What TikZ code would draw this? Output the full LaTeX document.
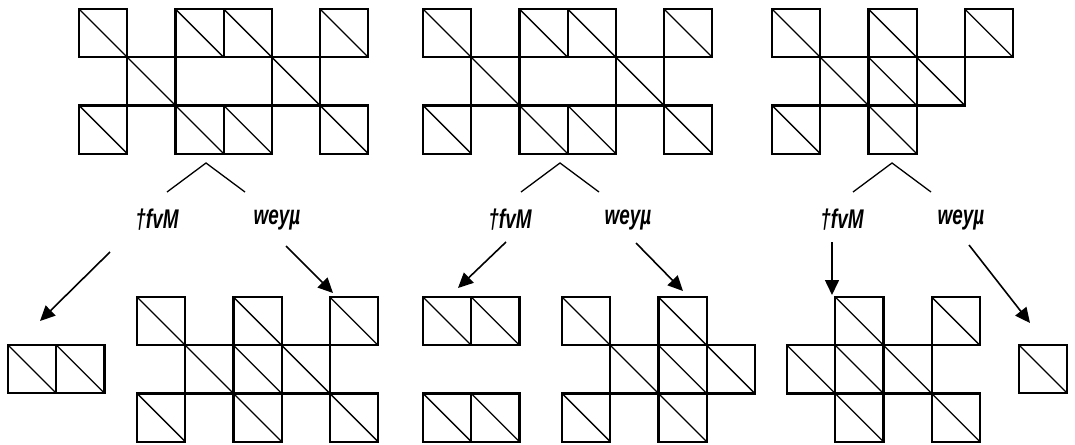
\documentclass[tikz,border=0pt]{standalone}
\usepackage{fontspec}
\newfontfamily\opfont[FakeStretch=0.7]{Liberation Sans}
\usetikzlibrary{arrows.meta}

% one square of the grid, split by its diagonal
\tikzset{
  cell/.style={draw, line width=2.2pt, minimum size=48.2pt, inner sep=0pt,
    path picture={\draw[line width=1.3pt] (path picture bounding box.north west)
      -- (path picture bounding box.south east);}},
  op/.style={inner sep=0pt, font=\opfont\bfseries\itshape\fontsize{27}{27}\selectfont},
  branch/.style={line width=1.3pt},
  move/.style={line width=1.6pt, -{Triangle[length=15pt,width=14pt]}}
}

% #1 name, #2 #3 top left corner, #4 list of column/row
\newcommand{\drawgrid}[4]{%
  \foreach \c/\r in {#4}
    \node[cell] (#1-\c-\r) at ({#2+(\c+0.5)*48.2},{#3+(\r+0.5)*48.2}) {};}

\begin{document}
\begin{tikzpicture}[x=1pt, y=-1pt]
  \useasboundingbox (0,0) rectangle (1075,444);

  % shapes before the move
  \drawgrid{a}{79}{9}{0/0,2/0,3/0,5/0,1/1,4/1,0/2,2/2,3/2,5/2}
  \drawgrid{b}{423}{9}{0/0,2/0,3/0,5/0,1/1,4/1,0/2,2/2,3/2,5/2}
  \drawgrid{c}{772}{9}{0/0,2/0,4/0,1/1,2/1,3/1,0/2,2/2}

  % shapes after the move
  \drawgrid{al}{8}{345}{0/0,1/0}
  \drawgrid{ar}{137}{297}{0/0,2/0,4/0,1/1,2/1,3/1,0/2,2/2,4/2}
  \drawgrid{bl}{423}{297}{0/0,1/0,0/2,1/2}
  \drawgrid{br}{562}{297}{0/0,2/0,1/1,2/1,3/1,0/2,2/2}
  \drawgrid{cl}{787}{297}{1/0,3/0,0/1,1/1,2/1,1/2,3/2}
  \drawgrid{cr}{1019}{345}{0/0}

  % labels
  \node[op] (a-left) at (157,220) {†fvM};
  \node[op] (a-right) at (277,220) {weyµ};
  \node[op] (b-left) at (510,220) {†fvM};
  \node[op] (b-right) at (628,220) {weyµ};
  \node[op] (c-left) at (842,220) {†fvM};
  \node[op] (c-right) at (961,220) {weyµ};

  \coordinate (a-top) at (206,163);
  \coordinate (b-top) at (560,163);
  \coordinate (c-top) at (892,163);
  \foreach \g in {a,b,c}
    \draw[branch] (\g-top) +(-39,29) -- (\g-top) -- +(39,29);

  % arrows
  \coordinate (a-left-from) at (110,252);  \coordinate (a-left-to) at (40,321);
  \coordinate (a-right-from) at (286,246); \coordinate (a-right-to) at (333,293);
  \coordinate (b-left-from) at (506,242);  \coordinate (b-left-to) at (458,288);
  \coordinate (b-right-from) at (636,243); \coordinate (b-right-to) at (683,291);
  \coordinate (c-left-from) at (832,242);  \coordinate (c-left-to) at (832,295);
  \coordinate (c-right-from) at (969,245); \coordinate (c-right-to) at (1030,323);
  \foreach \g in {a,b,c}
    \foreach \s in {left,right}
      \draw[move] (\g-\s-from) -- (\g-\s-to);
\end{tikzpicture}
\end{document}
